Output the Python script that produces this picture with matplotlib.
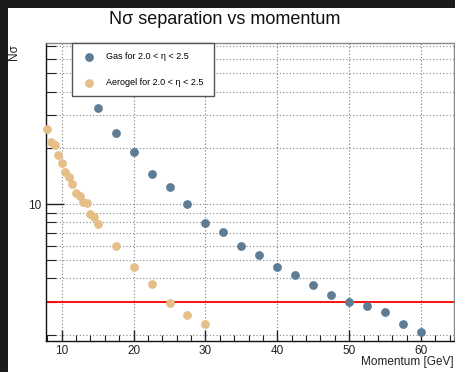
import matplotlib
matplotlib.use("Agg")
import matplotlib.pyplot as plt
from matplotlib.patches import Rectangle
from matplotlib.ticker import FixedLocator, NullFormatter, FixedFormatter

plt.rcParams['font.family'] = ['Liberation Sans', 'DejaVu Sans']

# Gas radiator separation (momentum in GeV, N sigma)
gas_p = [15, 17.5, 20, 22.5, 25, 27.5, 30, 32.5, 35, 37.5, 40, 42.5, 45,
         47.5, 50, 52.5, 55, 57.5, 60]
gas_nsigma = [32.5, 24.0, 18.9, 14.4, 12.3, 10.0, 7.94, 7.11, 5.94, 5.34,
              4.62, 4.16, 3.69, 3.27, 3.0, 2.86, 2.66, 2.28, 2.07]

# Aerogel radiator separation
aero_p = [8, 8.5, 9, 9.5, 10, 10.5, 11, 11.5, 12, 12.5, 13, 13.5, 14, 14.5,
          15, 17.5, 20, 22.5, 25, 27.5, 30]
aero_nsigma = [25.1, 21.5, 20.8, 18.3, 16.5, 14.9, 14.0, 12.8, 11.5, 11.1,
               10.2, 10.1, 8.84, 8.52, 7.82, 5.96, 4.60, 3.72, 2.96, 2.54, 2.27]

threshold = 3.0

gas_label = "Gas for 2.0 < \u03b7 < 2.5"
aero_label = "Aerogel for 2.0 < \u03b7 < 2.5"

x_major = [10, 20, 30, 40, 50, 60]
x_minor = [8, 12, 14, 16, 18, 22, 24, 26, 28, 32, 34, 36, 38, 42, 44, 46, 48,
           52, 54, 56, 58, 62, 64]
y_grid = [2, 3, 4, 5, 6, 7, 8, 9, 10, 20, 30, 40, 50, 60, 70]

gas_color = "#5f7c95"
aero_color = "#e5be88"

fig = plt.figure(figsize=(4.56, 3.72), dpi=100, facecolor="#1b1b1b")
canvas_bg = Rectangle((8 / 456, 0), 1 - 8 / 456, 1 - 8 / 372,
                      transform=fig.transFigure, facecolor="white",
                      edgecolor="none", zorder=-10)
fig.add_artist(canvas_bg)

ax = fig.add_axes([0.1002, 0.0833, 0.8965, 0.8003])
ax.set_facecolor("white")
ax.set_yscale("log")
ax.set_xlim(7.77, 64.66)
ax.set_ylim(1.85, 72.5)

# grid: vertical at major x, horizontal at every decade subdivision
for xv in x_major:
    ax.axvline(xv, color="#777777", lw=0.8, ls=(0, (1, 2)), zorder=1)
for yv in y_grid:
    ax.axhline(yv, color="#888888", lw=0.8, ls=(0, (1, 2)), zorder=1)

ax.axhline(threshold, color="#ff0000", lw=1.3, zorder=2)

ax.scatter(gas_p, gas_nsigma, s=40, color=gas_color, label=gas_label,
           zorder=4, clip_on=False, linewidths=0)
ax.scatter(aero_p, aero_nsigma, s=40, color=aero_color, label=aero_label,
           zorder=4, clip_on=False, linewidths=0)

ax.xaxis.set_major_locator(FixedLocator(x_major))
ax.xaxis.set_minor_locator(FixedLocator(x_minor))
ax.yaxis.set_major_locator(FixedLocator([10]))
ax.yaxis.set_minor_locator(FixedLocator([v for v in y_grid if v != 10]))
ax.yaxis.set_major_formatter(FixedFormatter(["10"]))
ax.yaxis.set_minor_formatter(NullFormatter())

ax.tick_params(axis="both", which="both", direction="in", top=False,
               right=False, labelsize=8.5, colors="#222222")
ax.tick_params(axis="x", which="major", length=8, width=1, pad=3)
ax.tick_params(axis="x", which="minor", length=4, width=0.8)
ax.tick_params(axis="y", which="major", length=13, width=1, pad=3)
ax.tick_params(axis="y", which="minor", length=7, width=0.8)

for side in ("left", "bottom"):
    ax.spines[side].set_color("#111111")
    ax.spines[side].set_linewidth(1.0)
for side in ("top", "right"):
    ax.spines[side].set_color("#888888")
    ax.spines[side].set_linewidth(1.0)

leg = ax.legend(loc="upper left", bbox_to_anchor=(0.0636, 0.812, 0.349, 0.188),
                mode="expand", borderaxespad=0, fontsize=6.5, frameon=True,
                fancybox=False, framealpha=1, edgecolor="#555555",
                borderpad=0.95, labelspacing=1.9, handlelength=1.9,
                handletextpad=1.0, scatterpoints=1, markerscale=1.0)
leg.get_frame().set_linewidth(1.0)
leg.set_zorder(5)

fig.text(0.493, 1 - 19 / 372, "N\u03c3 separation vs momentum",
         ha="center", va="center", fontsize=13, color="#111111")
fig.text(14 / 456, 1 - 44 / 372, "N\u03c3", rotation=90, ha="center",
         va="top", fontsize=8.5, color="#222222")
fig.text(454 / 456, 1 - 362 / 372, "Momentum [GeV]", ha="right",
         va="center", fontsize=8.5, color="#222222")

fig.savefig("out.png", dpi=100, facecolor=fig.get_facecolor())
